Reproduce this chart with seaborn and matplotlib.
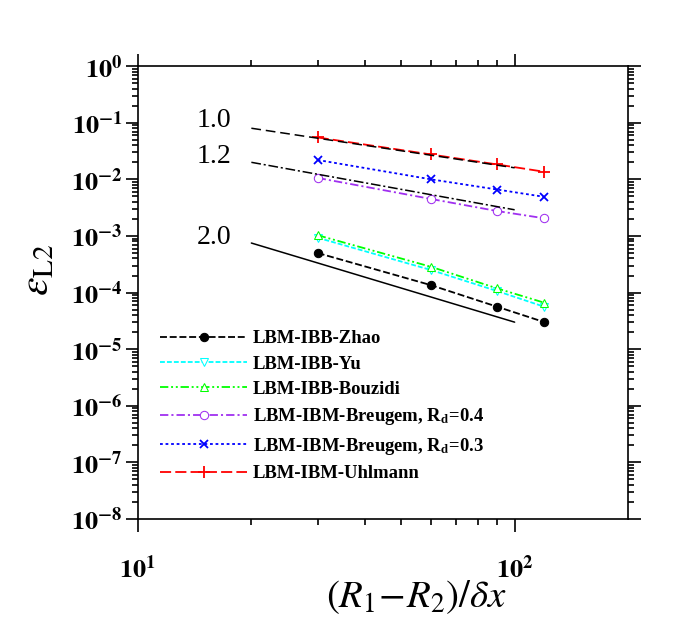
import numpy as np
import pandas as pd
import matplotlib
matplotlib.use('Agg')
import matplotlib.pyplot as plt
from matplotlib.ticker import FixedLocator, NullFormatter
import seaborn as sns

# grid resolution (R1-R2)/dx
dx_res = [30, 60, 90, 120]

# L2 errors
err_zhao = [5.0e-4, 1.35e-4, 5.6e-5, 3.0e-5]
err_yu = [9.3e-4, 2.5e-4, 1.06e-4, 5.6e-5]
err_bouzidi = [1.03e-3, 2.85e-4, 1.18e-4, 6.6e-5]
err_breugem04 = [1.06e-2, 4.5e-3, 2.75e-3, 2.05e-3]
err_breugem03 = [2.2e-2, 1.0e-2, 6.6e-3, 4.9e-3]
err_uhlmann = [5.5e-2, 2.75e-2, 1.83e-2, 1.36e-2]

labels = ['LBM-IBB-Zhao', 'LBM-IBB-Yu', 'LBM-IBB-Bouzidi',
          r'LBM-IBM-Breugem, R$_{\mathbf{d}}$=0.4',
          r'LBM-IBM-Breugem, R$_{\mathbf{d}}$=0.3',
          'LBM-IBM-Uhlmann']

# reference slopes: (order, start value at x=20)
ref_x = [20, 100]
ref_orders = [1.0, 1.2, 2.0]
ref_start = [0.08, 0.02, 7.5e-4]

sns.set_style('ticks')
plt.rcParams['font.family'] = ['Liberation Serif', 'DejaVu Serif']
plt.rcParams['mathtext.fontset'] = 'stix'
plt.rcParams['lines.scale_dashes'] = False
for k in ['text.color', 'axes.labelcolor', 'xtick.color', 'ytick.color', 'axes.edgecolor']:
    plt.rcParams[k] = 'black'

fig = plt.figure(figsize=(6.74, 6.24), dpi=100)
ax = fig.add_axes([0.2047, 0.1683, 0.7271, 0.7257])
ax.set_xscale('log')
ax.set_yscale('log')

styles = [
    dict(color='black', dashes=(5, 2), marker='o', mfc='black', ms=6),
    dict(color='#00ffff', dashes=(3.5, 1.5), marker='v', mfc='white', ms=6),
    dict(color='#00ff00', dashes=(6, 2, 1.4, 2, 1.4, 2), marker='^', mfc='white', ms=6),
    dict(color='#a030f0', dashes=(6, 2.2, 1.5, 2.2), marker='o', mfc='white', ms=6),
    dict(color='#0000ff', dashes=(2, 2), marker='x', mfc='none', ms=6, mew=1.3),
    dict(color='#ff0000', dashes=(8, 3), marker='+', mfc='none', ms=9, mew=1.3),
]
series = [err_zhao, err_yu, err_bouzidi, err_breugem04, err_breugem03, err_uhlmann]

for vals, lab, st in zip(series, labels, styles):
    df = pd.DataFrame({'x': dx_res, 'err': vals})
    sns.lineplot(data=df, x='x', y='err', ax=ax, label=lab, lw=1.3,
                 mec=st['color'], **st)

# order-of-accuracy guide lines
ref_ls = [dict(dashes=(7, 3.5)), dict(dashes=(7, 2, 1.5, 2)), dict(linestyle='-')]
for p, y0, ls in zip(ref_orders, ref_start, ref_ls):
    ry = [y0 * (x / ref_x[0]) ** (-p) for x in ref_x]
    ax.plot(ref_x, ry, color='black', lw=1.1, **ls)

ax.text(17.7, 0.11, '1.0', fontsize=20, ha='right', va='center')
ax.text(17.7, 0.0255, '1.2', fontsize=20, ha='right', va='center')
ax.text(17.7, 9.5e-4, '2.0', fontsize=20, ha='right', va='center')

ax.set_xlim(10, 200)
ax.set_ylim(1e-8, 1)

yt = [10.0 ** k for k in range(-8, 1)]
ax.set_yticks(yt, [r'$\mathbf{10^{%d}}$' % k for k in range(-8, 1)])
ax.yaxis.set_minor_locator(FixedLocator(
    [m * 10.0 ** k for k in range(-8, 0) for m in range(2, 10)]))
ax.yaxis.set_minor_formatter(NullFormatter())
ax.set_xticks([10, 100], [r'$\mathbf{10^{1}}$', r'$\mathbf{10^{2}}$'])
ax.xaxis.set_minor_locator(FixedLocator([20, 30, 40, 50, 60, 70, 80, 90]))
ax.xaxis.set_minor_formatter(NullFormatter())

ax.tick_params(which='both', direction='out', top=True, right=True,
               width=1.2, labelsize=19)
ax.tick_params(which='major', length=9)
ax.tick_params(which='minor', length=4)
ax.tick_params(axis='x', which='major', pad=17)
ax.tick_params(axis='y', which='major', pad=2)
for s in ax.spines.values():
    s.set_linewidth(1.2)

ax.set_xlabel(r'$(R_1\!-\!R_2)/\delta x$', fontsize=28, va='center')
ax.xaxis.set_label_coords(0.567, -0.172)
ax.set_ylabel(r'$\varepsilon_{\mathrm{L2}}$', fontsize=30)
ax.yaxis.set_label_coords(-0.165, 0.55)

leg = ax.legend(loc='upper left', bbox_to_anchor=(0.045, 0.417), frameon=False,
                borderpad=0, borderaxespad=0, handlelength=4.7,
                handletextpad=0.3, labelspacing=0.45,
                prop={'weight': 'bold', 'size': 13.4})

fig.savefig('out.png', dpi=100)
